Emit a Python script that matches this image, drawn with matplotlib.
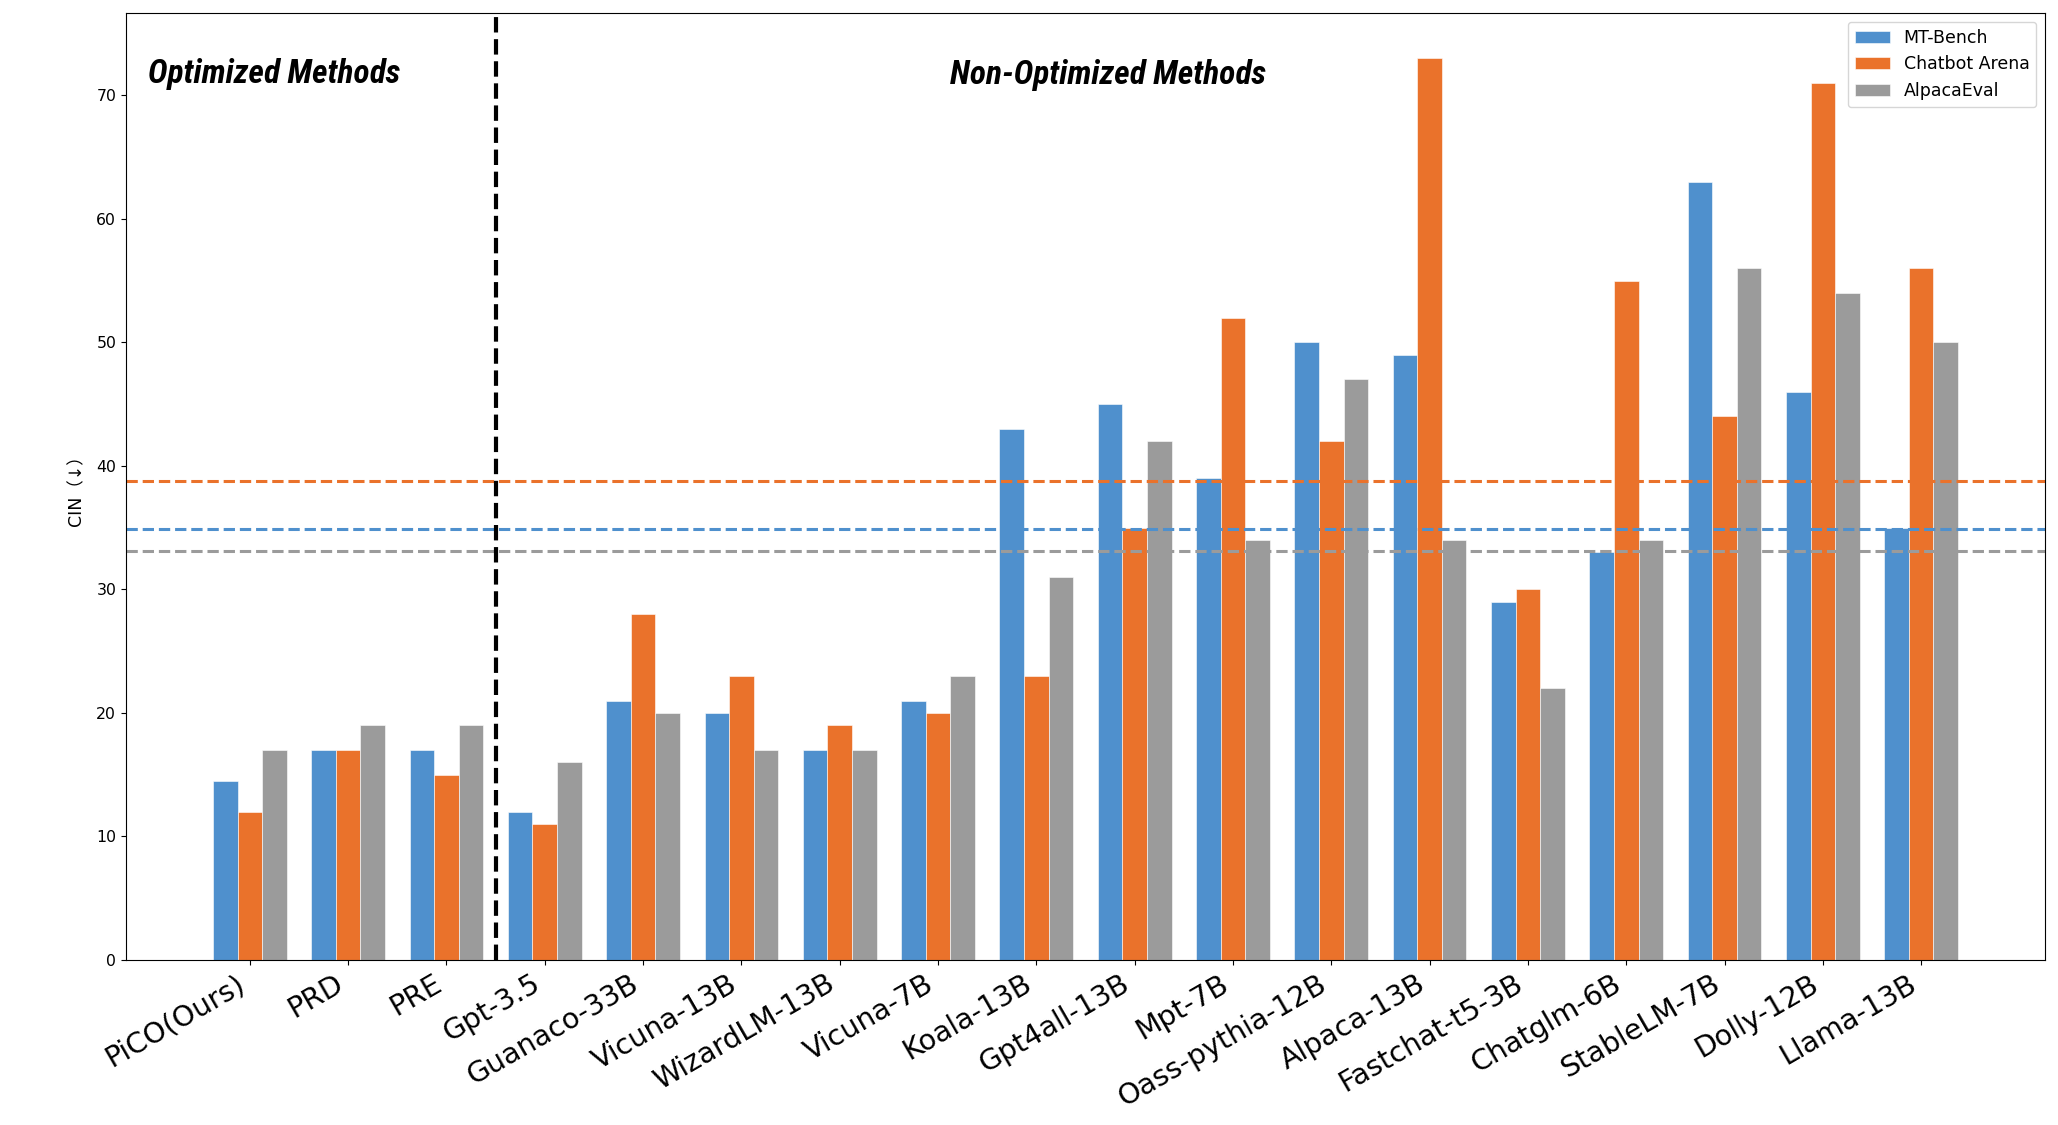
"""
CIN per evaluated model on the three benchmarks, optimized methods on the
left of the divider, the rest on the right. Dashed lines are the mean of the
non-optimized models for each benchmark.
"""
import matplotlib
matplotlib.use("Agg")
import matplotlib.pyplot as plt
import numpy as np

MODELS = [
    "PiCO(Ours)", "PRD", "PRE", "Gpt-3.5", "Guanaco-33B", "Vicuna-13B",
    "WizardLM-13B", "Vicuna-7B", "Koala-13B", "Gpt4all-13B", "Mpt-7B",
    "Oass-pythia-12B", "Alpaca-13B", "Fastchat-t5-3B", "Chatglm-6B",
    "StableLM-7B", "Dolly-12B", "Llama-13B",
]
N_OPTIMIZED = 3  # PiCO, PRD, PRE

MT_BENCH = [14.5, 17, 17, 12, 21, 20, 17, 21, 43, 45, 39, 50, 49, 29, 33, 63, 46, 35]
CHATBOT_ARENA = [12, 17, 15, 11, 28, 23, 19, 20, 23, 35, 52, 42, 73, 30, 55, 44, 71, 56]
ALPACA_EVAL = [17, 19, 19, 16, 20, 17, 17, 23, 31, 42, 34, 47, 34, 22, 34, 56, 54, 50]

SERIES = [
    ("MT-Bench", MT_BENCH, "#4f90cd"),
    ("Chatbot Arena", CHATBOT_ARENA, "#ea722b"),
    ("AlpacaEval", ALPACA_EVAL, "#9b9b9b"),
]

WIDTH = 0.25
# condensed bold italic for the two section headers
HEADER = dict(family=["Roboto Condensed", "DejaVu Sans"], fontsize=24,
              fontweight="bold", style="italic", va="baseline")


def main():
    fig, ax = plt.subplots(figsize=(20.58, 11.25), dpi=100)
    fig.subplots_adjust(left=0.0612, right=0.9937, bottom=0.1467, top=0.9884)

    x = np.arange(len(MODELS))
    for i, (label, values, color) in enumerate(SERIES):
        ax.bar(x + (i - 1) * WIDTH, values, WIDTH, color=color, label=label,
               edgecolor="white", linewidth=0.4)

    # benchmark mean over the non-optimized models
    for label, values, color in SERIES:
        ax.axhline(np.mean(values[N_OPTIMIZED:]), color=color,
                   linestyle="--", linewidth=2.2)

    ax.axvline(N_OPTIMIZED - 0.5, color="black", linestyle="--", linewidth=3)

    ax.text(-1.04, 70.95, "Optimized Methods", **HEADER)
    ax.text(7.12, 70.9, "Non-Optimized Methods", **HEADER)

    ax.set_xlim(-1.26, len(MODELS) - 1 + 1.26)
    ax.set_xticks(x, MODELS, rotation=30, ha="right", fontsize=20.5)
    ax.tick_params(axis="y", labelsize=11.3)
    ax.set_ylabel("CIN（↓）", fontsize=12.5, labelpad=8,
                  family=["DejaVu Sans", "Noto Sans CJK SC"])
    ax.legend(loc="upper right", fontsize=12.5)

    fig.savefig("out.png", dpi=100, facecolor="white")
    plt.close(fig)


if __name__ == "__main__":
    main()
